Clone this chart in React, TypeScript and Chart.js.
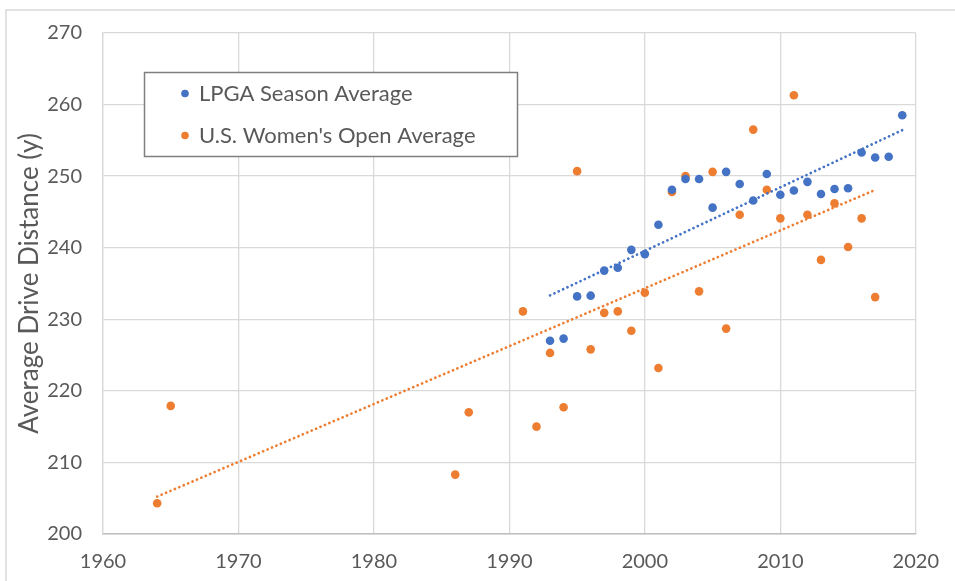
import React, { useEffect, useRef } from "react";
import { Chart, registerables } from "chart.js";
Chart.register(...registerables);

const lpgaYears = [1993, 1994, 1995, 1996, 1997, 1998, 1999, 2000, 2001, 2002, 2003, 2004, 2005, 2006, 2007, 2008, 2009, 2010, 2011, 2012, 2013, 2014, 2015, 2016, 2017, 2018, 2019];
const lpgaValues = [227.0, 227.3, 233.2, 233.3, 236.8, 237.2, 239.7, 239.1, 243.2, 248.1, 249.6, 249.6, 245.6, 250.6, 248.9, 246.6, 250.3, 247.4, 248.0, 249.2, 247.5, 248.2, 248.3, 253.3, 252.6, 252.7, 258.5];

const openYears = [1964, 1965, 1986, 1987, 1991, 1992, 1993, 1994, 1995, 1996, 1997, 1998, 1999, 2000, 2001, 2002, 2003, 2004, 2005, 2006, 2007, 2008, 2009, 2010, 2011, 2012, 2013, 2014, 2015, 2016, 2017];
const openValues = [204.3, 217.9, 208.3, 217.0, 231.1, 215.0, 225.3, 217.7, 250.7, 225.8, 230.9, 231.1, 228.4, 233.7, 223.2, 247.8, 250.0, 233.9, 250.6, 228.7, 244.6, 256.5, 248.1, 244.1, 261.3, 244.6, 238.3, 246.2, 240.1, 244.1, 233.1];

const xTicks = [1960, 1970, 1980, 1990, 2000, 2010, 2020];
const yTicks = [200, 210, 220, 230, 240, 250, 260, 270];

const seriesNames = ["LPGA Season Average", "U.S. Women's Open Average"];
const yTitle = "Average Drive Distance (y)";

const BLUE = "#4472C4";
const ORANGE = "#ED7D31";
const TEXT = "#595959";
const FONT = "Lato, 'Open Sans', sans-serif";

function toPoints(xs: number[], ys: number[]) {
  return xs.map((x, i) => ({ x, y: ys[i] }));
}

function trend(xs: number[], ys: number[]) {
  const n = xs.length;
  const mx = xs.reduce((a, b) => a + b, 0) / n;
  const my = ys.reduce((a, b) => a + b, 0) / n;
  let sxy = 0, sxx = 0;
  for (let i = 0; i < n; i++) {
    sxy += (xs[i] - mx) * (ys[i] - my);
    sxx += (xs[i] - mx) * (xs[i] - mx);
  }
  const b = sxy / sxx;
  const a = my - b * mx;
  const x0 = Math.min(...xs);
  const x1 = Math.max(...xs);
  return [{ x: x0, y: a + b * x0 }, { x: x1, y: a + b * x1 }];
}

const framePlugin = {
  id: "frame",
  beforeDraw(chart: any) {
    const ctx = chart.ctx;
    ctx.save();
    ctx.strokeStyle = "#d9d9d9";
    ctx.lineWidth = 1.5;
    ctx.beginPath();
    ctx.moveTo(6, chart.height);
    ctx.lineTo(6, 10);
    ctx.lineTo(chart.width, 10);
    ctx.stroke();
    ctx.restore();
  },
};

const legendPlugin = {
  id: "customLegend",
  afterDraw(chart: any) {
    const ctx = chart.ctx;
    ctx.save();
    ctx.fillStyle = "#ffffff";
    ctx.fillRect(144.5, 72.5, 373, 84);
    ctx.strokeStyle = "#7f7f7f";
    ctx.lineWidth = 1.5;
    ctx.strokeRect(144.5, 72.5, 373, 84);
    const items = [
      { label: seriesNames[0], color: BLUE, y: 93.5 },
      { label: seriesNames[1], color: ORANGE, y: 135.5 },
    ];
    ctx.font = `22px ${FONT}`;
    ctx.textBaseline = "middle";
    ctx.textAlign = "left";
    for (const it of items) {
      ctx.fillStyle = it.color;
      ctx.beginPath();
      ctx.arc(185, it.y, 3.8, 0, Math.PI * 2);
      ctx.fill();
      ctx.fillStyle = TEXT;
      ctx.fillText(it.label, 199, it.y);
    }
    ctx.restore();
  },
};

export default function App() {
  const ref = useRef<HTMLCanvasElement>(null);
  useEffect(() => {
    if (!ref.current) return;
    const dotted = {
      borderWidth: 2.7,
      borderDash: [0.1, 4.7],
      borderCapStyle: "round" as const,
      pointRadius: 0,
      showLine: true,
      fill: false,
    };
    const chart = new Chart(ref.current, {
      type: "scatter",
      data: {
        datasets: [
          {
            label: seriesNames[0] + " trend",
            data: trend(lpgaYears, lpgaValues),
            borderColor: BLUE,
            ...dotted,
          },
          {
            label: seriesNames[1] + " trend",
            data: trend(openYears, openValues),
            borderColor: ORANGE,
            ...dotted,
          },
          {
            label: seriesNames[0],
            data: toPoints(lpgaYears, lpgaValues),
            backgroundColor: BLUE,
            borderColor: BLUE,
            pointRadius: 4.3,
            borderWidth: 0,
          },
          {
            label: seriesNames[1],
            data: toPoints(openYears, openValues),
            backgroundColor: ORANGE,
            borderColor: ORANGE,
            pointRadius: 4.3,
            borderWidth: 0,
          },
        ],
      } as any,
      options: {
        animation: false,
        responsive: false,
        maintainAspectRatio: false,
        layout: { padding: { left: 0, top: 33, right: 35, bottom: 0 } },
        plugins: { legend: { display: false }, tooltip: { enabled: false } },
        scales: {
          x: {
            type: "linear",
            min: xTicks[0],
            max: xTicks[xTicks.length - 1],
            afterBuildTicks: (s: any) => {
              s.ticks = xTicks.map((v) => ({ value: v }));
            },
            afterFit: (s: any) => {
              s.height = 47;
            },
            ticks: {
              color: TEXT,
              font: { family: FONT, size: 20 },
              padding: 16,
              callback: (v: any) => String(v),
            },
            grid: { color: "#d9d9d9", lineWidth: 1.3, drawTicks: false },
            border: { color: "#bfbfbf", width: 1.5 },
          },
          y: {
            type: "linear",
            min: yTicks[0],
            max: yTicks[yTicks.length - 1],
            afterBuildTicks: (s: any) => {
              s.ticks = yTicks.map((v) => ({ value: v }));
            },
            afterFit: (s: any) => {
              s.width = 103;
            },
            ticks: {
              color: TEXT,
              font: { family: FONT, size: 20 },
              padding: 21,
              callback: (v: any) => String(v),
            },
            title: {
              display: true,
              text: yTitle,
              color: TEXT,
              font: { family: FONT, size: 26 },
              padding: { top: 14, bottom: 0 },
            },
            grid: { color: "#d9d9d9", lineWidth: 1.3, drawTicks: false },
            border: { color: "#d9d9d9", width: 1.3 },
          },
        },
      } as any,
      plugins: [framePlugin, legendPlugin],
    });
    return () => chart.destroy();
  }, []);
  return (
    <div style={{ position: "absolute", left: 0, top: 0, width: 955, height: 581, background: "#fff" }}>
      <canvas ref={ref} width={955} height={581} style={{ display: "block" }} />
    </div>
  );
}
